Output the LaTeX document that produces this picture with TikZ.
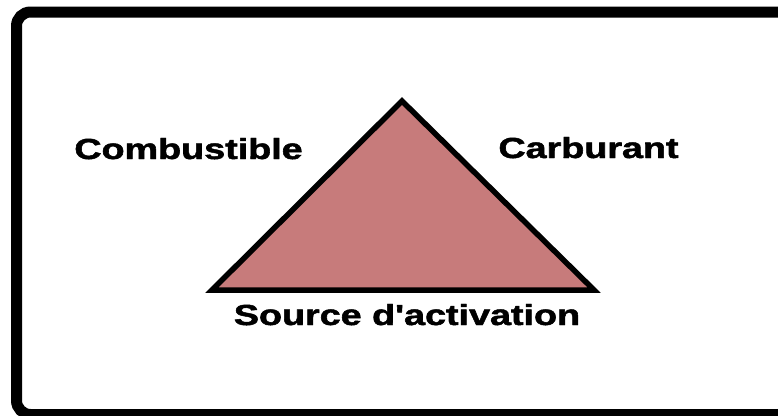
\documentclass[tikz,border=0pt]{standalone}
\usepackage{fontspec}
\setmainfont{Liberation Sans}[BoldFeatures={FakeBold=1.6}]
\usetikzlibrary{positioning}

\definecolor{rosefeu}{RGB}{199,123,123}

\begin{document}
\begin{tikzpicture}[x=1pt,y=-1pt]
\tikzset{cadre/.style={draw=black, line width=11pt, rounded corners=14pt}, }
\tikzset{triangle feu/.style={draw=black, fill=rosefeu, line width=5.5pt, line join=miter}, }
\tikzset{etiquette/.style={font=\fontsize{29}{34}\selectfont\bfseries, text=black, inner sep=0pt, anchor=base, xscale=1.3}, }

\useasboundingbox (0,0) rectangle (778,415);
\clip (0,0) rectangle (778,415);

% cadre
\draw[cadre] (16.5,12) rectangle (792,414.5);

% triangle du feu
\coordinate (sommet) at (402,101);
\coordinate (baseG) at (212,290);
\coordinate (baseD) at (594,290);
\draw[triangle feu] (sommet) -- (baseD) -- (baseG) -- cycle;

% textes
\node[etiquette] (combustible) at (188.5,159) {Combustible};
\node[etiquette] (carburant) at (588.5,158) {Carburant};
\node[etiquette] (source) at (407,325) {Source d\textquotesingle activation};
\end{tikzpicture}
\end{document}
